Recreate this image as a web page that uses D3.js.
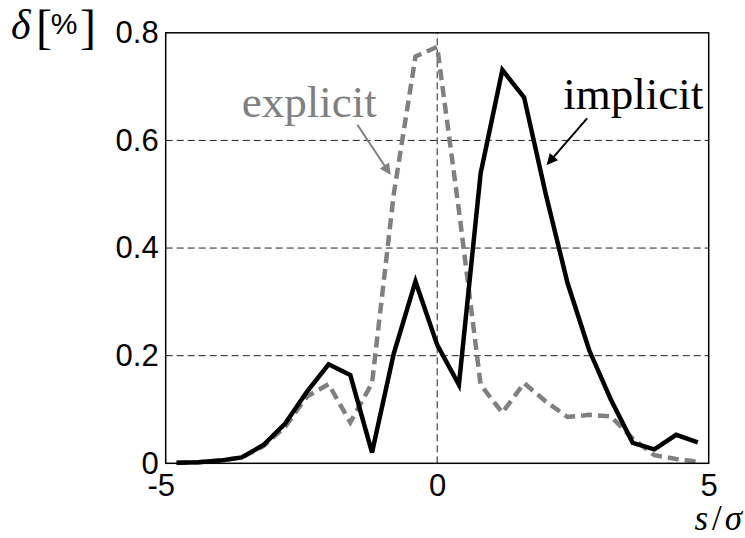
<!DOCTYPE html>
<html>
  <head>
    <script type="text/javascript" src="https://cdn.jsdelivr.net/npm/d3@7/dist/d3.min.js"></script>
    <style>
      body { margin: 0; background: #fff; }
    </style>
  </head>
  <body>
    <div id="viz"></div>
    <script type="text/javascript">
      // s/sigma positions of the samples
      const sVals = [-4.8, -4.4, -4.0, -3.6, -3.2, -2.8, -2.4, -2.0, -1.6, -1.2, -0.8, -0.4,
                     0.0, 0.4, 0.8, 1.2, 1.6, 2.0, 2.4, 2.8, 3.2, 3.6, 4.0, 4.4, 4.8];
      // delta [%] for both schemes
      const implicitVals = [0.001, 0.002, 0.005, 0.011, 0.034, 0.074, 0.133, 0.184, 0.164, 0.02, 0.204, 0.338,
                            0.22, 0.146, 0.539, 0.731, 0.68, 0.50, 0.335, 0.21, 0.118, 0.038, 0.026, 0.053, 0.039];
      const explicitVals = [0.001, 0.002, 0.005, 0.011, 0.032, 0.068, 0.124, 0.147, 0.076, 0.149, 0.50, 0.756,
                            0.774, 0.47, 0.146, 0.094, 0.149, 0.115, 0.086, 0.09, 0.087, 0.046, 0.015, 0.008, 0.003];
      const xTicks = [-5, 0, 5];
      const yTicks = [0, 0.2, 0.4, 0.6, 0.8];
      const yGrid = [0.2, 0.4, 0.6];
      const xGrid = [0];

      const width = 745;
      const height = 538;
      const sans = "'Liberation Sans', Arial, sans-serif";
      const serif = "'Liberation Serif', 'Times New Roman', serif";

      const x = d3.scaleLinear().domain([-5, 5]).range([165.7, 708.7]);
      const y = d3.scaleLinear().domain([0, 0.8]).range([463.3, 32.8]);

      const svg = d3.select("#viz")
        .append("svg")
        .attr("width", width)
        .attr("height", height);

      const defs = svg.append("defs");
      function addHead(id, color){
        defs.append("marker")
          .attr("id", id)
          .attr("viewBox", "0 0 10 10")
          .attr("refX", 9)
          .attr("refY", 5)
          .attr("markerUnits", "userSpaceOnUse")
          .attr("markerWidth", 13)
          .attr("markerHeight", 11)
          .attr("orient", "auto")
          .append("path")
          .attr("d", "M0,0 L10,5 L0,10 Z")
          .style("fill", color);
      }
      addHead("headBlack", "#000");
      addHead("headGray", "#808080");

      // grid
      svg.selectAll("line.hgrid")
        .data(yGrid)
        .enter()
        .append("line")
        .attr("class", "hgrid")
        .attr("x1", x(-5)).attr("x2", x(5))
        .attr("y1", d => y(d)).attr("y2", d => y(d))
        .style("stroke", "#222")
        .style("stroke-width", 1)
        .style("stroke-dasharray", "7,4");

      svg.selectAll("line.vgrid")
        .data(xGrid)
        .enter()
        .append("line")
        .attr("class", "vgrid")
        .attr("x1", d => x(d)).attr("x2", d => x(d))
        .attr("y1", y(0)).attr("y2", y(0.8))
        .style("stroke", "#222")
        .style("stroke-width", 1)
        .style("stroke-dasharray", "7,4");

      // curves
      const line = d3.line()
        .x((d, i) => x(sVals[i]))
        .y(d => y(d));

      svg.append("path")
        .datum(explicitVals)
        .attr("d", line)
        .style("fill", "none")
        .style("stroke", "#808080")
        .style("stroke-width", 4.5)
        .style("stroke-dasharray", "11,6");

      svg.append("path")
        .datum(implicitVals)
        .attr("d", line)
        .style("fill", "none")
        .style("stroke", "#000")
        .style("stroke-width", 4.5)
        .style("stroke-linejoin", "miter");

      // frame
      svg.append("rect")
        .attr("x", x(-5))
        .attr("y", y(0.8))
        .attr("width", x(5) - x(-5))
        .attr("height", y(0) - y(0.8))
        .style("fill", "none")
        .style("stroke", "#000")
        .style("stroke-width", 1.5);

      // axes
      const xAxis = svg.append("g")
        .attr("transform", "translate(0," + y(0) + ")")
        .call(d3.axisBottom(x).tickValues(xTicks).tickSize(0).tickPadding(11)
          .tickFormat(d => d < 0 ? "-" + Math.abs(d) : String(d)));
      xAxis.select(".domain").remove();
      xAxis.selectAll("text")
        .style("font-family", sans)
        .style("font-size", "31px")
        .style("fill", "#000")
        .attr("dx", d => d < 0 ? -5 : 0);

      const yAxis = svg.append("g")
        .attr("transform", "translate(" + x(-5) + ",0)")
        .call(d3.axisLeft(y).tickValues(yTicks).tickSize(0).tickPadding(7)
          .tickFormat(d => d === 0 ? "0" : d.toFixed(1)));
      yAxis.select(".domain").remove();
      yAxis.selectAll("text")
        .style("font-family", sans)
        .style("font-size", "31px")
        .style("fill", "#000");

      // axis labels
      const yl = svg.append("g");
      yl.append("text").attr("x", 11).attr("y", 39)
        .style("font-family", serif).style("font-style", "italic")
        .style("font-size", "42px").text("δ");
      yl.append("text").attr("x", 36).attr("y", 43)
        .style("font-family", serif).style("font-size", "48px").text("[");
      yl.append("text").attr("x", 64).attr("y", 34)
        .attr("text-anchor", "middle")
        .style("font-family", sans).style("font-size", "30px").text("%");
      yl.append("text").attr("x", 80).attr("y", 43)
        .style("font-family", serif).style("font-size", "48px").text("]");

      const xl = svg.append("text")
        .attr("x", 742)
        .attr("y", 530)
        .attr("text-anchor", "end")
        .style("font-family", serif)
        .style("font-size", "35px");
      xl.append("tspan").style("font-style", "italic").text("s");
      xl.append("tspan").attr("dx", 4).text("/");
      xl.append("tspan").attr("dx", 3).style("font-style", "italic").text("σ");

      // annotations
      const notes = [
        {text: "explicit", color: "#808080", head: "headGray", tx: -3.6, ty: 0.643, from: [-1.47, 0.629], to: [-0.87, 0.538]},
        {text: "implicit", color: "#000", head: "headBlack", tx: 2.32, ty: 0.658, from: [2.76, 0.641], to: [2.03, 0.556]}
      ];
      const ann = svg.selectAll("g.note")
        .data(notes)
        .enter()
        .append("g")
        .attr("class", "note");
      ann.append("text")
        .attr("x", d => x(d.tx))
        .attr("y", d => y(d.ty))
        .style("font-family", serif)
        .style("font-size", "45px")
        .style("fill", d => d.color)
        .text(d => d.text);
      ann.append("line")
        .attr("x1", d => x(d.from[0])).attr("y1", d => y(d.from[1]))
        .attr("x2", d => x(d.to[0])).attr("y2", d => y(d.to[1]))
        .style("stroke", d => d.color)
        .style("stroke-width", 2)
        .attr("marker-end", d => "url(#" + d.head + ")");
    </script>
  </body>
</html>
